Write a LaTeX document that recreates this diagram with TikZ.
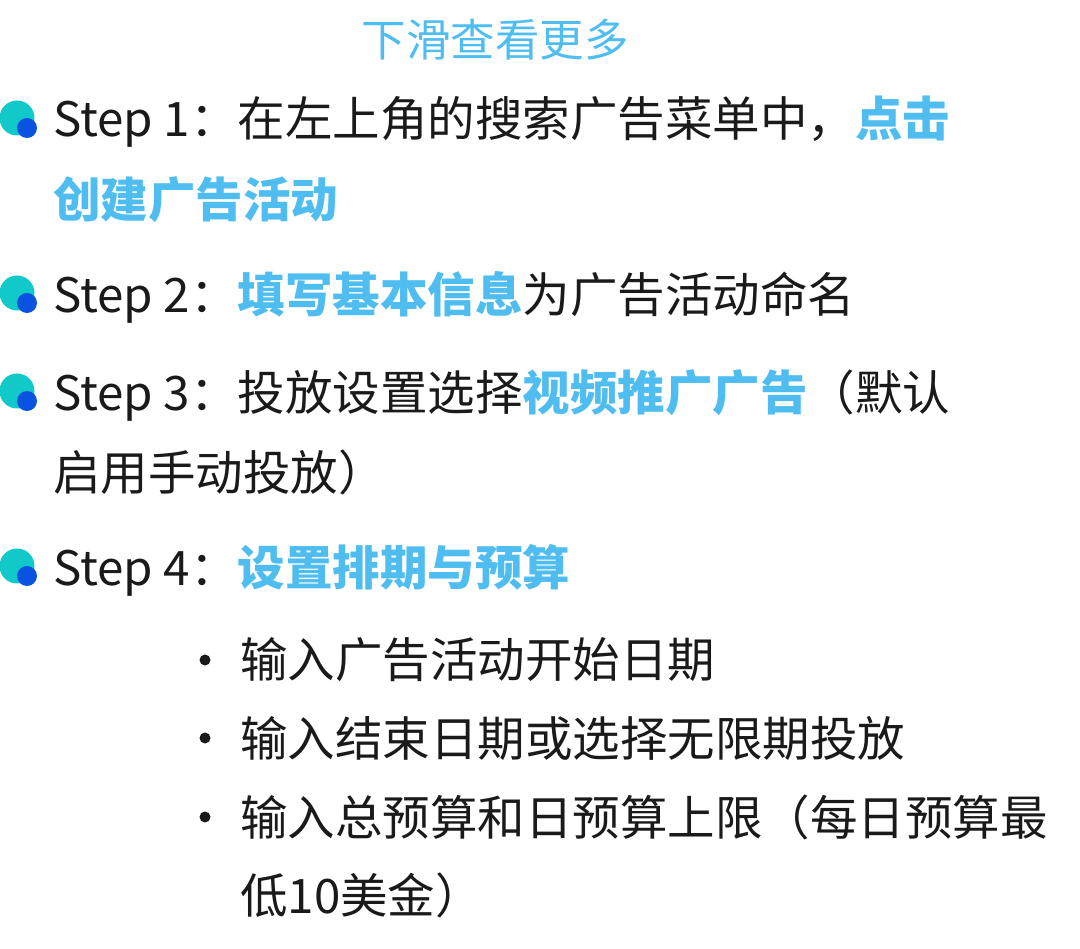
\documentclass[tikz,border=0pt]{standalone}
\usepackage{fontspec}
\setmainfont{Noto Sans CJK SC}
\definecolor{hl}{HTML}{4FBDF0}
\definecolor{tl}{HTML}{12C9C9}
\definecolor{bl}{HTML}{0A52E0}
\definecolor{tx}{HTML}{1A1A1A}
\tikzset{ln/.style={anchor=west,inner sep=0pt,font=\fontsize{47.5}{48}\selectfont,text=tx}}
\newcommand{\hlt}[1]{\textcolor{hl}{\bfseries #1}}
\newcommand{\icon}[1]{\fill[tl] (17,#1-4) circle (17.5); \fill[bl] (27,#1+6) circle (10);}
\begin{document}
\begin{tikzpicture}[x=1pt,y=-1pt]
\useasboundingbox (0,0) rectangle (1080,949);
\node[ln,anchor=center,text=hl,font=\fontsize{44.5}{45}\selectfont] (t) at (495,40) {下滑查看更多};
\icon{122}
\node[ln] (s1) at (53,122) {Step 1：在左上角的搜索广告菜单中，\hlt{点击}};
\node[ln] (s1b) at (53,200) {\hlt{创建广告活动}};
\icon{297}
\node[ln] (s2) at (53,297) {Step 2：\hlt{填写基本信息}为广告活动命名};
\icon{395}
\node[ln] (s3) at (53,395) {Step 3：投放设置选择\hlt{视频推广广告}（默认};
\node[ln] (s3b) at (53,472) {启用手动投放）};
\icon{570}
\node[ln] (s4) at (53,570) {Step 4：\hlt{设置排期与预算}};
\foreach \y/\t in {660/输入广告活动开始日期,738/输入结束日期或选择无限期投放,817/输入总预算和日预算上限（每日预算最}{
  \fill[tx] (205,\y) circle (5.5);
  \node[ln] at (240,\y) {\t};}
\node[ln] (b4) at (240,895) {低10美金）};
\end{tikzpicture}
\end{document}
